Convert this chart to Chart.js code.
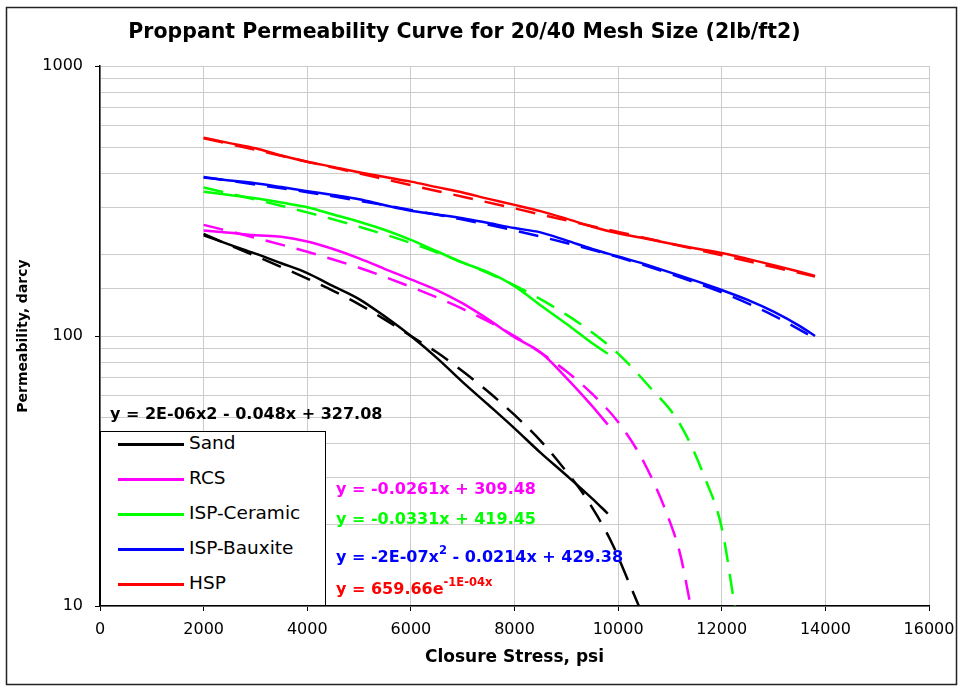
<!DOCTYPE html>
<html>
<head>
<meta charset="utf-8">
<title>Proppant Permeability Curve</title>
<script src="https://cdn.jsdelivr.net/npm/chart.js@4/dist/chart.umd.min.js"></script>
<style>
    body { margin: 0; background: #fff; }
    #wrap { position: relative; width: 965px; height: 686px; }
    .legend {
        position: absolute; left: 100px; top: 431px; width: 224px; height: 173px;
        border: 1px solid #000; background: #fff;
        font-family: "DejaVu Sans", sans-serif; font-size: 18.5px; color: #000;
    }
    .legend-item { position: absolute; left: 0; height: 20px; line-height: 20px; white-space: nowrap; }
    .legend-line { position: absolute; left: 17px; top: 10px; width: 66px; height: 3px; }
    .legend-text { position: absolute; left: 88px; top: 0; }
    .equation {
        position: absolute; white-space: nowrap; line-height: 20px;
        font-family: "DejaVu Sans", sans-serif; font-weight: bold; font-size: 16px;
    }
    .equation sup { font-size: 11.5px; vertical-align: 8.5px; line-height: 0; }
</style>
</head>
<body>
<div id="wrap">
    <canvas id="js-permeability-chart" width="965" height="686"></canvas>
    <div id="js-legend" class="legend"></div>
</div>
<script>
// Series
const seriesNames = ["Sand", "RCS", "ISP-Ceramic", "ISP-Bauxite", "HSP"];
const seriesColors = ["#000000", "#ff00ff", "#00ff00", "#0000ff", "#ff0000"];

// Measured data, closure stress (psi) vs permeability (darcy)
const stressShort = [2000, 2500, 3000, 3500, 4000, 4500, 5000, 5500, 6000, 6500, 7000, 7500, 8000, 8500, 9000, 9500, 9800];
const sandPerm = [236, 218, 202, 186, 171, 153, 137, 118, 100, 83, 67.5, 55.5, 45.5, 37, 30.5, 25, 22];
const rcsPerm = [246, 241, 236, 233, 224, 210, 194, 177, 162, 148, 132, 115, 99, 87, 70, 55, 47];
const ceramicPerm = [342, 333, 324, 312, 300, 282, 265, 247, 227, 206, 187, 172, 153, 130, 111, 94, 86];

const stressLong = [2000, 2500, 3000, 3500, 4000, 4500, 5000, 5500, 6000, 6500, 7000, 7500, 8000, 8500, 9000, 9500, 10000, 10500, 11000, 11500, 12000, 12500, 13000, 13500, 13800];
const bauxitePerm = [386, 377, 368, 356, 344, 333, 321, 305, 291, 282, 273, 262, 251, 242, 226, 210, 197, 185, 172, 160, 148, 136, 123, 109, 100];
const hspPerm = [542, 518, 496, 466, 442, 423, 404, 388, 373, 356, 340, 322, 306, 290, 272, 254, 240, 230, 220, 211, 203, 193, 183, 173, 167];

// Trendlines (dashed)
const sandTrendStress = [2000, 2500, 3000, 3500, 4000, 4500, 5000, 5500, 6000, 6500, 7000, 7500, 8000, 8500, 9000, 9300, 9600, 9900, 10150, 10400];
const sandTrendPerm = [239, 217, 198, 180, 163, 147, 131, 115, 100, 87, 74, 62, 51, 41, 31.5, 26.5, 21.5, 16.8, 13, 10];
const rcsTrendStress = [2000, 3000, 4000, 5000, 6000, 7000, 8000, 9000, 9500, 10000, 10500, 11000, 11200, 11400];
const rcsTrendPerm = [258, 231, 205, 179, 152, 126, 100, 74, 61, 48, 34, 20.5, 15.5, 10];
const ceramicTrendStress = [2000, 3000, 4000, 5000, 6000, 7000, 8000, 9000, 9500, 10000, 10600, 11200, 11700, 12000, 12250];
const ceramicTrendPerm = [355, 320, 287, 254, 221, 187, 154, 120, 103, 86, 65, 47, 29, 19.5, 10];
const longTrendStress = [2000, 3000, 4000, 5000, 6000, 7000, 8000, 9000, 10000, 11000, 12000, 13000, 13800];
const bauxiteTrendPerm = [388, 364, 341, 317, 293, 270, 246, 221, 196, 170, 145, 119, 98];
const hspTrendPerm = [540, 489, 442, 400, 362, 328, 297, 268, 243, 220, 199, 180, 166];

// Trendline equations
const trendEquations = [
    "y = 2E-06x2 - 0.048x + 327.08",
    "y = -0.0261x + 309.48",
    "y = -0.0331x + 419.45",
    "y = -2E-07x<sup>2</sup> - 0.0214x + 429.38",
    "y = 659.66e<sup>-1E-04x</sup>",
];

// Axis tick labels
const yTickLabels = [10, 100, 1000];
const xTickStep = 2000;

// Equation label placement (left, top)
const equationPlaces = [[110, 404], [336, 478.5], [336, 508.5], [336, 547], [336, 579]];

const toPoints = (xs, ys) => xs.map((x, i) => ({ x: x, y: ys[i] }));

const measured = [
    toPoints(stressShort, sandPerm),
    toPoints(stressShort, rcsPerm),
    toPoints(stressShort, ceramicPerm),
    toPoints(stressLong, bauxitePerm),
    toPoints(stressLong, hspPerm),
];
const trends = [
    toPoints(sandTrendStress, sandTrendPerm),
    toPoints(rcsTrendStress, rcsTrendPerm),
    toPoints(ceramicTrendStress, ceramicTrendPerm),
    toPoints(longTrendStress, bauxiteTrendPerm),
    toPoints(longTrendStress, hspTrendPerm),
];

let datasets = [];
trends.forEach((pts, i) => {
    datasets.push({
        label: seriesNames[i] + " trend",
        data: pts,
        borderColor: seriesColors[i],
        borderWidth: 2.5,
        borderDash: [20, 12],
        pointRadius: 0,
        cubicInterpolationMode: "monotone",
    });
});
measured.forEach((pts, i) => {
    datasets.push({
        label: seriesNames[i],
        data: pts,
        borderColor: seriesColors[i],
        borderWidth: 2.5,
        pointRadius: 0,
        cubicInterpolationMode: "monotone",
    });
});

// White page and outer frame
const framePlugin = {
    id: "frame",
    beforeDraw(chart) {
        const ctx = chart.ctx;
        ctx.save();
        ctx.fillStyle = "#fff";
        ctx.fillRect(0, 0, chart.width, chart.height);
        ctx.restore();
    },
    afterDraw(chart) {
        const ctx = chart.ctx;
        ctx.save();
        ctx.strokeStyle = "#222";
        ctx.lineWidth = 1.5;
        ctx.strokeRect(6.5, 7.5, 950, 677);
        ctx.restore();
    },
};

const gridColor = "#cccccc";

new Chart(document.getElementById("js-permeability-chart"), {
    type: "line",
    data: { datasets: datasets },
    options: {
        responsive: false,
        animation: false,
        devicePixelRatio: 1,
        layout: { padding: { left: 0, right: 36, top: 9, bottom: 0 } },
        plugins: {
            legend: { display: false },
            tooltip: { enabled: false },
            title: {
                display: true,
                text: "Proppant Permeability Curve for 20/40 Mesh Size (2lb/ft2)",
                color: "#000",
                font: { family: "DejaVu Sans", size: 20.5, weight: "bold" },
                padding: { top: 11, bottom: 21.4 },
            },
        },
        scales: {
            x: {
                type: "linear",
                min: 0,
                max: 16000,
                afterFit: (scale) => { scale.height = 80; },
                ticks: {
                    stepSize: xTickStep,
                    color: "#000",
                    padding: 9,
                    font: { family: "DejaVu Sans", size: 16 },
                    callback: (value) => String(value),
                },
                grid: { color: gridColor, tickColor: "#000", tickLength: 5 },
                border: { color: "#000", width: 1.5 },
                title: {
                    display: true,
                    text: "Closure Stress, psi",
                    color: "#000",
                    font: { family: "DejaVu Sans", size: 17, weight: "bold" },
                    padding: { top: 0, bottom: 18 },
                },
            },
            y: {
                type: "logarithmic",
                min: 10,
                max: 1000,
                afterFit: (scale) => { scale.width = 100; },
                ticks: {
                    autoSkip: false,
                    color: "#000",
                    padding: 12,
                    font: { family: "DejaVu Sans", size: 16 },
                    callback: (value) => (yTickLabels.includes(value) ? String(value) : ""),
                },
                grid: {
                    color: gridColor,
                    tickLength: 5,
                    tickColor: (c) => (c.tick && yTickLabels.includes(c.tick.value) ? "#000" : "rgba(0,0,0,0)"),
                },
                border: { color: "#000", width: 1.5 },
                title: {
                    display: true,
                    text: "Permeability, darcy",
                    color: "#000",
                    font: { family: "DejaVu Sans", size: 14, weight: "bold" },
                    padding: { top: 15, bottom: 0 },
                },
            },
        },
    },
    plugins: [framePlugin],
});

// Legend box
const legendEl = document.getElementById("js-legend");
seriesNames.forEach((name, i) => {
    let item = document.createElement("div");
    item.className = "legend-item";
    item.style.top = (1 + i * 35) + "px";
    item.innerHTML = '<span class="legend-line" style="background:' + seriesColors[i] + '"></span>' +
        '<span class="legend-text">' + name + "</span>";
    legendEl.appendChild(item);
});

// Trendline equations
const wrap = document.getElementById("wrap");
trendEquations.forEach((eq, i) => {
    let el = document.createElement("div");
    el.className = "equation";
    el.style.left = equationPlaces[i][0] + "px";
    el.style.top = equationPlaces[i][1] + "px";
    el.style.color = seriesColors[i];
    el.innerHTML = eq;
    wrap.appendChild(el);
});
</script>
</body>
</html>
